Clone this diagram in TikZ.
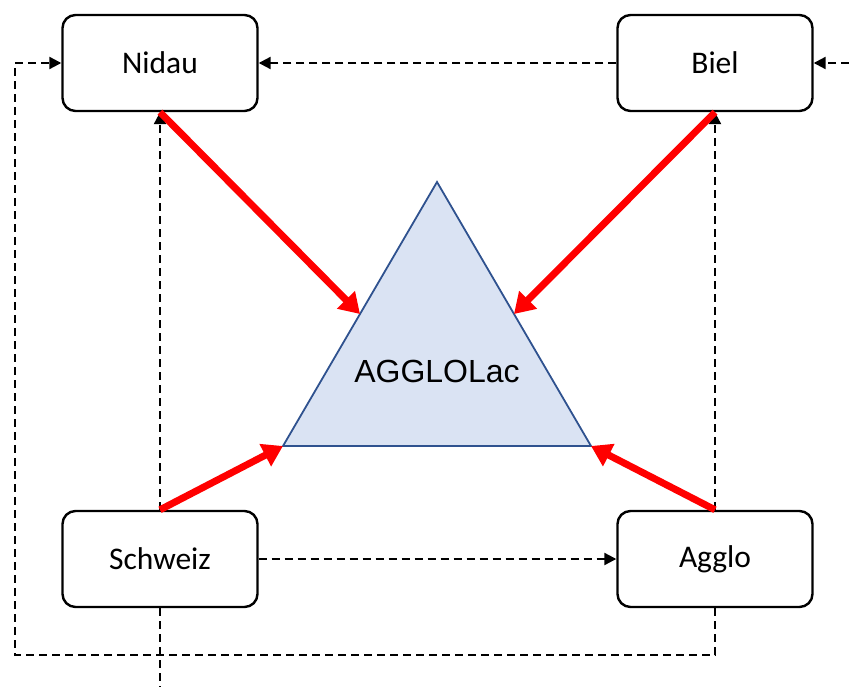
\documentclass[tikz,border=0pt]{standalone}
\usepackage{fontspec}
\setmainfont{Carlito}
\newfontfamily\arialfont{Liberation Sans}
\usetikzlibrary{arrows.meta,calc}
\definecolor{trifill}{RGB}{218,227,243}
\definecolor{triedge}{RGB}{47,82,143}
\begin{document}
\begin{tikzpicture}[x=1pt,y=-1pt,
  box/.style={draw=black, line width=2.4pt, rounded corners=13pt, minimum width=195pt, minimum height=96pt, inner sep=0pt, fill=white, font=\fontsize{31.5}{36}\selectfont},
  dline/.style={draw=black, line width=2.2pt, dash pattern=on 8pt off 5pt},
  darr/.style={dline, -{Triangle[length=12pt,width=12pt]}},
  rarr/.style={draw=red, line width=7pt, -{Triangle[length=20pt,width=24pt]}},
  tri/.style={draw=triedge, line width=1.8pt, fill=trifill, line join=miter},
  trilabel/.style={font=\arialfont\fontsize{32}{36}\selectfont, inner sep=0pt}
]
\useasboundingbox (0,0) rectangle (849,687);
% boxes
\node[box] (nidau) at (160,63) {Nidau};
\node[box] (biel) at (715,63) {Biel};
\node[box] (schweiz) at (160,559) {Schweiz};
\node[box] (agglo) at (715,559) {Agglo};
% free ends
\coordinate (rin) at (849,63);
\coordinate (bot) at (160,687);
\coordinate (lc1) at (715,655);
\coordinate (lc2) at (15,655);
\coordinate (lc3) at (15,63);
% dashed connectors
\draw[darr] (biel.west) -- (nidau.east);
\draw[darr] (rin) -- (biel.east);
\draw[darr] (schweiz.east) -- (agglo.west);
\draw[darr] (schweiz.north) -- (nidau.south);
\draw[darr] (agglo.north) -- (biel.south);
\draw[darr] (agglo.south) -- (lc1) -- (lc2) -- (lc3) -- (nidau.west);
\draw[dline] (schweiz.south) -- (bot);
% triangle
\coordinate (A) at (437,182);
\coordinate (BL) at (283,446);
\coordinate (BR) at (591,446);
\draw[tri] (A) -- (BL) -- (BR) -- cycle;
\node[trilabel] (agglolac) at (437,371) {AGGLOLac};
\coordinate (L) at ($(BL)!0.5!(A)$);
\coordinate (R) at ($(BR)!0.5!(A)$);
% red arrows
\draw[rarr] (nidau.south) -- (L);
\draw[rarr] (biel.south) -- (R);
\draw[rarr] (schweiz.north) -- (BL);
\draw[rarr] (agglo.north) -- (BR);
\end{tikzpicture}
\end{document}
